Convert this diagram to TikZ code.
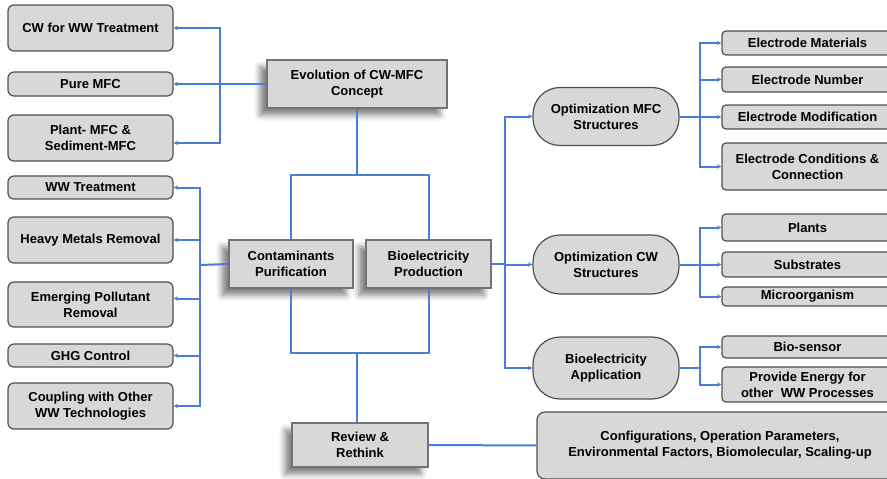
\documentclass[tikz,border=0pt]{standalone}
\usepackage{fontspec}
\setmainfont{Liberation Sans}
\usetikzlibrary{arrows.meta,shadows.blur}
\definecolor{boxgray}{RGB}{216,216,216}
\definecolor{edgegray}{RGB}{80,80,80}
\definecolor{linkblue}{RGB}{74,124,216}
\begin{document}
\begin{tikzpicture}[x=1pt, y=-1pt,
		every node/.style={font=\fontsize{13}{16}\selectfont\bfseries, align=center, inner sep=0},
		leftbox/.style={draw=edgegray, line width=1.2pt, fill=boxgray, rounded corners=6pt, minimum width=165pt},
		rightbox/.style={draw=edgegray, line width=1.2pt, fill=boxgray, rounded corners=4pt, minimum width=171pt},
		ovalbox/.style={draw=edgegray, line width=1.2pt, fill=boxgray, rounded corners=27pt, minimum width=146pt},
		mainbox/.style={draw=edgegray!80, line width=1.5pt, fill=boxgray, blur shadow={shadow xshift=-7pt, shadow yshift=-7pt, shadow blur radius=6pt, shadow opacity=50}},
		link/.style={draw=linkblue, line width=2pt},
		arr/.style={link, -{Stealth[length=4.5pt, width=4.5pt]}}]
	\useasboundingbox (0,0) rectangle (887,479);
	\clip (0,0) rectangle (887,479);

	% central boxes
	\node[mainbox, minimum width=180pt, minimum height=48pt] (evo) at (357,84) {Evolution of CW-MFC\\Concept};
	\node[mainbox, minimum width=124pt, minimum height=48pt] (cp) at (291,264) {Contaminants\\Purification};
	\node[mainbox, minimum width=125pt, minimum height=48pt] (bp) at (428.5,264) {Bioelectricity\\Production};
	\node[mainbox, minimum width=136pt, minimum height=44pt] (rev) at (360,445) {Review \&\\Rethink};

	% left groups
	\foreach \nm/\yy/\hh/\txt in {cwww/28/46/{CW for WW Treatment}, pmfc/84/24/{Pure MFC}, psmfc/138/46/{Plant- MFC \&\\Sediment-MFC},
		wwt/187.5/23/{WW Treatment}, hmr/240/46/{Heavy Metals Removal}, epr/304.5/45/{Emerging Pollutant\\Removal},
		ghg/355.5/23/{GHG Control}, cpl/406/46/{Coupling with Other\\WW Technologies}}
	{
		\node[leftbox, minimum height=\hh pt] (\nm) at (90.5,\yy) {\txt};
	}

	% right groups
	\foreach \nm/\yy/\hh/\txt in {omfc/116.5/58/{Optimization MFC\\Structures}, ocw/264.5/59/{Optimization CW\\Structures}, bapp/368/62/{Bioelectricity\\Application}}
	{
		\node[ovalbox, minimum height=\hh pt] (\nm) at (606,\yy) {\txt};
	}
	\foreach \nm/\yy/\hh/\txt in {em/43/24/{Electrode Materials}, en/79.5/25/{Electrode Number}, emod/117/24/{Electrode Modification},
		ecc/166.5/47/{Electrode Conditions \&\\Connection}, pl/227.5/27/{Plants}, sub/264.5/25/{Substrates}, mic/296.5/19/{Microorganism},
		bio/347/22/{Bio-sensor}, pe/384.5/35/{Provide Energy for\\other~ WW Processes}}
	{
		\node[rightbox, minimum height=\hh pt] (\nm) at (807.5,\yy) {\txt};
	}
	\node[draw=edgegray, line width=1.2pt, fill=boxgray, rounded corners=8pt, minimum width=366pt, minimum height=67pt] (big) at (720,445.5)
		{Configurations, Operation Parameters,\\Environmental Factors, Biomolecular, Scaling-up};

	% connectors
	\coordinate (j1) at (220,84);
	\draw[link] (evo.west) -- (j1);
	\draw[arr] (j1) |- (cwww.east);
	\draw[arr] (j1) -- (pmfc.east);
	\draw[arr] (j1) |- ([yshift=-5pt]psmfc.east);

	\coordinate (j2) at (200,265);
	\draw[link] (cp.west) -- (j2);
	\foreach \nm in {wwt,hmr,ghg,cpl}
		\draw[arr] (j2) |- (\nm.east);
	\draw[arr] (j2) |- ([yshift=6pt]epr.east);

	\coordinate (top) at (357,175);
	\coordinate (bot) at (357,353);
	\draw[link] (evo.south) -- (top);
	\draw[link] (cp.north) |- (top) -| (bp.north);
	\draw[link] (cp.south) |- (bot) -| (bp.south);
	\draw[link] (bot) -- (bot |- rev.north);
	\draw[link] (rev.east) -- (big.west);

	\coordinate (j3) at (505,264);
	\draw[link] (bp.east) -- (j3);
	\foreach \nm in {omfc,ocw,bapp}
		\draw[arr] (j3) |- (\nm.west);

	\coordinate (j4) at (700,116.5);
	\draw[link] (omfc.east) -- (j4);
	\foreach \nm in {em,en,emod,ecc}
		\draw[arr] (j4) |- (\nm.west);
	\coordinate (j5) at (700,264.5);
	\draw[link] (ocw.east) -- (j5);
	\foreach \nm in {pl,sub,mic}
		\draw[arr] (j5) |- (\nm.west);
	\coordinate (j6) at (700,368);
	\draw[link] (bapp.east) -- (j6);
	\foreach \nm in {bio,pe}
		\draw[arr] (j6) |- (\nm.west);
\end{tikzpicture}
\end{document}
